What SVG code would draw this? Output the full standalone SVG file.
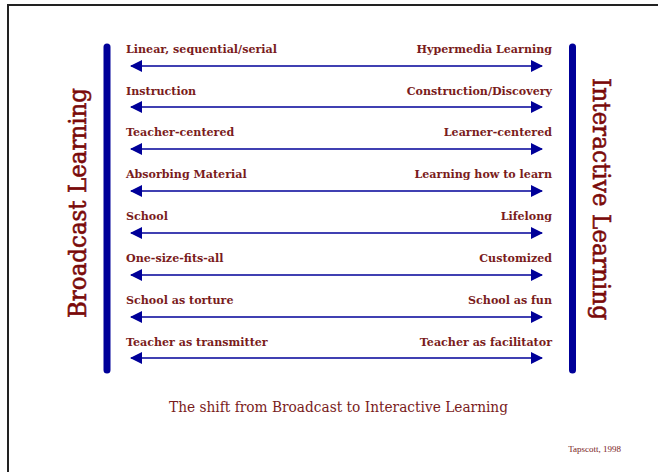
<svg xmlns="http://www.w3.org/2000/svg" width="658" height="472" viewBox="0 0 658 472">
<defs>
<style>
.lbl{font-family:"DejaVu Serif",serif;font-weight:bold;font-size:11.1px;fill:#7a1c1c}
.r{text-anchor:end}
.side{font-family:"DejaVu Serif",serif;font-size:25px;fill:#7a0a0a;stroke:#7a0a0a;stroke-width:0.6;text-anchor:middle}
.bar{stroke:#000099;stroke-width:7;stroke-linecap:round}
.arr{stroke:#000099;stroke-width:1.6;fill:none;marker-start:url(#ah);marker-end:url(#ah)}
</style>
<marker id="ah" viewBox="0 0 12 12" refX="11" refY="6" markerWidth="12" markerHeight="12" markerUnits="userSpaceOnUse" orient="auto-start-reverse">
<path d="M0,0 L12,6 L0,12 Z" fill="#000099"/>
</marker>
</defs>
<rect width="658" height="472" fill="#fff"/>
<path d="M8,472 V5 H658" fill="none" stroke="#222" stroke-width="2"/>
<g id="broadcast">
<line class="bar" x1="107" y1="47" x2="107" y2="370"/>
<text class="side" transform="translate(86,203) rotate(-90)" textLength="230" lengthAdjust="spacingAndGlyphs">Broadcast Learning</text>
</g>
<g id="interactive">
<line class="bar" x1="572.5" y1="47" x2="572.5" y2="370"/>
<text class="side" transform="translate(593,199) rotate(90)" textLength="242" lengthAdjust="spacingAndGlyphs">Interactive Learning</text>
</g>
<g id="connectors">
<line class="arr" x1="131" y1="66" x2="542" y2="66"/>
<line class="arr" x1="131" y1="107" x2="542" y2="107"/>
<line class="arr" x1="131" y1="149" x2="542" y2="149"/>
<line class="arr" x1="131" y1="191" x2="542" y2="191"/>
<line class="arr" x1="131" y1="233" x2="542" y2="233"/>
<line class="arr" x1="131" y1="275" x2="542" y2="275"/>
<line class="arr" x1="131" y1="317" x2="542" y2="317"/>
<line class="arr" x1="131" y1="358" x2="542" y2="358"/>
</g>
<g id="row1"><text class="lbl" x="126" y="53">Linear, sequential/serial</text><text class="lbl r" x="552" y="53">Hypermedia Learning</text></g>
<g id="row2"><text class="lbl" x="126" y="95">Instruction</text><text class="lbl r" x="552" y="95">Construction/Discovery</text></g>
<g id="row3"><text class="lbl" x="126" y="136">Teacher-centered</text><text class="lbl r" x="552" y="136">Learner-centered</text></g>
<g id="row4"><text class="lbl" x="126" y="178">Absorbing Material</text><text class="lbl r" x="552" y="178">Learning how to learn</text></g>
<g id="row5"><text class="lbl" x="126" y="220">School</text><text class="lbl r" x="552" y="220">Lifelong</text></g>
<g id="row6"><text class="lbl" x="126" y="262">One-size-fits-all</text><text class="lbl r" x="552" y="262">Customized</text></g>
<g id="row7"><text class="lbl" x="126" y="304">School as torture</text><text class="lbl r" x="552" y="304">School as fun</text></g>
<g id="row8"><text class="lbl" x="126" y="346">Teacher as transmitter</text><text class="lbl r" x="552" y="346">Teacher as facilitator</text></g>
<g id="caption">
<text x="338.5" y="412" text-anchor="middle" font-family="DejaVu Serif, serif" font-size="14.5" fill="#7a1c1c" textLength="339" lengthAdjust="spacingAndGlyphs">The shift from Broadcast to Interactive Learning</text>
<text x="621" y="452" text-anchor="end" font-family="Liberation Serif, serif" font-size="9" fill="#7a1c1c">Tapscott, 1998</text>
</g>
</svg>
